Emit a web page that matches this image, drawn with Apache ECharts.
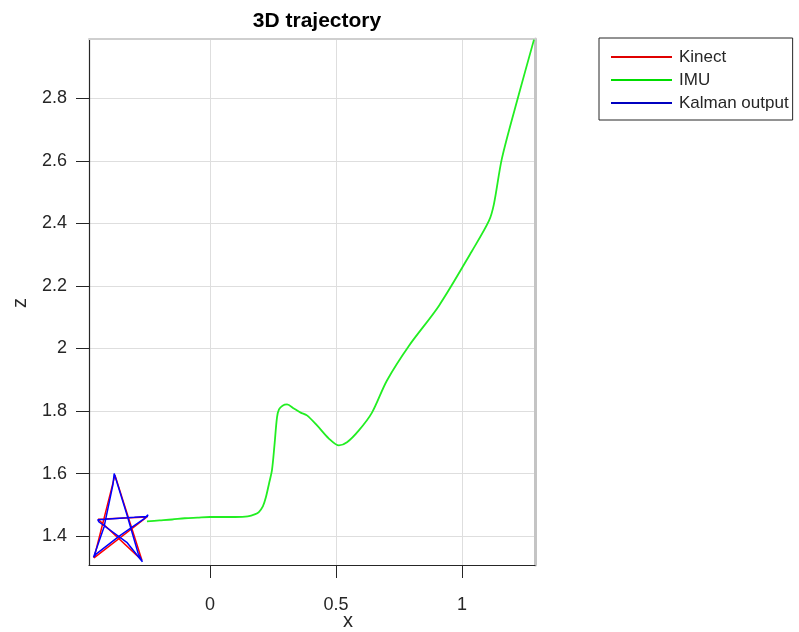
<!DOCTYPE html>
<html>
<head>
<meta charset="utf-8">
<script src="https://cdn.jsdelivr.net/npm/echarts@6/dist/echarts.min.js"></script>
<style>html,body{margin:0;padding:0;background:#fff}#c{width:799px;height:632px}</style>
</head>
<body>
<div id="c"></div>
<script>
// ---- data ----
const kinectX = [-0.250, -0.444, -0.270, -0.377, -0.460, -0.250];
const kinectZ = [1.461, 1.454, 1.323, 1.595, 1.330, 1.461];

const kalmanX = [-0.252, -0.300, -0.445, -0.440, -0.330, -0.268, -0.262, -0.285, -0.330, -0.380, -0.385, -0.420, -0.462, -0.452, -0.360, -0.262, -0.246, -0.250];
const kalmanZ = [1.463, 1.460, 1.452, 1.445, 1.380, 1.318, 1.322, 1.345, 1.470, 1.600, 1.565, 1.430, 1.332, 1.342, 1.400, 1.455, 1.468, 1.460];

const imuX = [-0.250, -0.200, -0.150, -0.100, -0.050, 0.000, 0.050, 0.100, 0.150, 0.180, 0.194, 0.210, 0.222, 0.235, 0.246, 0.256, 0.266, 0.274, 0.288, 0.306, 0.333, 0.360, 0.385, 0.425, 0.472, 0.512, 0.544, 0.591, 0.643, 0.702, 0.790, 0.909, 1.040, 1.107, 1.127, 1.159, 1.226, 1.286];
const imuZ = [1.447, 1.450, 1.453, 1.457, 1.459, 1.461, 1.461, 1.461, 1.463, 1.470, 1.477, 1.495, 1.524, 1.570, 1.610, 1.690, 1.779, 1.805, 1.817, 1.821, 1.808, 1.795, 1.786, 1.754, 1.712, 1.690, 1.700, 1.738, 1.795, 1.897, 2.009, 2.137, 2.312, 2.408, 2.462, 2.609, 2.813, 2.988];

const xTicks = [0, 0.5, 1];
const zTicks = [1.4, 1.6, 1.8, 2.0, 2.2, 2.4, 2.6, 2.8];
const xRange = [-0.48, 1.29];
const zRange = [1.3075, 2.99];

const pairs = (xs, ys) => xs.map((v, i) => [v, ys[i]]);

const chart = echarts.init(document.getElementById('c'));
const labelColor = '#262626';
const font = 'Liberation Sans, Arial, Helvetica, sans-serif';

chart.setOption({
  animation: false,
  title: {
    text: '3D trajectory',
    left: 312, top: 6, textAlign: 'center',
    textStyle: { fontSize: 21, fontWeight: 'bold', color: '#000', fontFamily: font }
  },
  legend: {
    orient: 'vertical',
    left: 599, top: 38,
    padding: [10, 4, 8, 12],
    itemGap: 5,
    itemWidth: 61, itemHeight: 2,
    icon: 'rect',
    borderColor: '#262626', borderWidth: 1,
    backgroundColor: '#fff',
    textStyle: { fontSize: 17, lineHeight: 18, color: labelColor, fontFamily: font, padding: [0, 0, 0, 2] },
    data: ['Kinect', 'IMU', 'Kalman output']
  },
  grid: { left: 89, right: 264, top: 39, bottom: 67, containLabel: false },
  xAxis: [{
    type: 'value', min: xRange[0], max: xRange[1], position: 'bottom',
    axisLine: { show: true, onZero: false, lineStyle: { color: '#262626', width: 1.2 } },
    axisTick: { show: true, inside: false, length: 13, customValues: xTicks, lineStyle: { color: '#262626' } },
    axisLabel: { customValues: xTicks, margin: 31, fontSize: 18, color: labelColor, fontFamily: font,
      formatter: v => String(v) },
    splitLine: { show: true, lineStyle: { color: '#dedede', width: 1 } }
  }, {
    type: 'value', min: xRange[0], max: xRange[1], position: 'top',
    axisLine: { show: true, onZero: false, lineStyle: { color: '#cfcfcf', width: 2 } },
    axisTick: { show: false }, axisLabel: { show: false }, splitLine: { show: false }
  }],
  yAxis: [{
    type: 'value', min: zRange[0], max: zRange[1], position: 'left',
    axisLine: { show: true, onZero: false, lineStyle: { color: '#262626', width: 1.2 } },
    axisTick: { show: true, inside: false, length: 13, customValues: zTicks, lineStyle: { color: '#262626' } },
    axisLabel: { customValues: zTicks, margin: 22, fontSize: 18, color: labelColor, fontFamily: font,
      formatter: v => (Math.round(v * 10) / 10).toString() },
    splitLine: { show: true, lineStyle: { color: '#dedede', width: 1 } }
  }, {
    type: 'value', min: zRange[0], max: zRange[1], position: 'right',
    axisLine: { show: true, onZero: false, lineStyle: { color: '#c4c4c4', width: 3 } },
    axisTick: { show: false }, axisLabel: { show: false }, splitLine: { show: false }
  }],
  graphic: [
    { type: 'text', x: 348, y: 621, style: { text: 'x', fontSize: 20, fill: labelColor, fontFamily: font, align: 'center', verticalAlign: 'middle' } },
    { type: 'text', x: 20, y: 303, rotation: Math.PI / 2, style: { text: 'z', fontSize: 20, fill: labelColor, fontFamily: font, align: 'center', verticalAlign: 'middle' } }
  ],
  series: [
    { name: 'Kinect', type: 'line', data: pairs(kinectX, kinectZ), showSymbol: false, symbol: 'none',
      lineStyle: { color: '#ff0000', width: 1.5 }, itemStyle: { color: '#e00000' }, z: 3 },
    { name: 'IMU', type: 'line', data: pairs(imuX, imuZ), showSymbol: false, symbol: 'none', smooth: 0.3,
      lineStyle: { color: '#22ee22', width: 1.8 }, itemStyle: { color: '#00dd00' }, z: 2 },
    { name: 'Kalman output', type: 'line', data: pairs(kalmanX, kalmanZ), showSymbol: false, symbol: 'none',
      lineStyle: { color: '#0000ff', width: 1.5 }, itemStyle: { color: '#0000c0' }, z: 4 }
  ]
});
</script>
</body>
</html>
